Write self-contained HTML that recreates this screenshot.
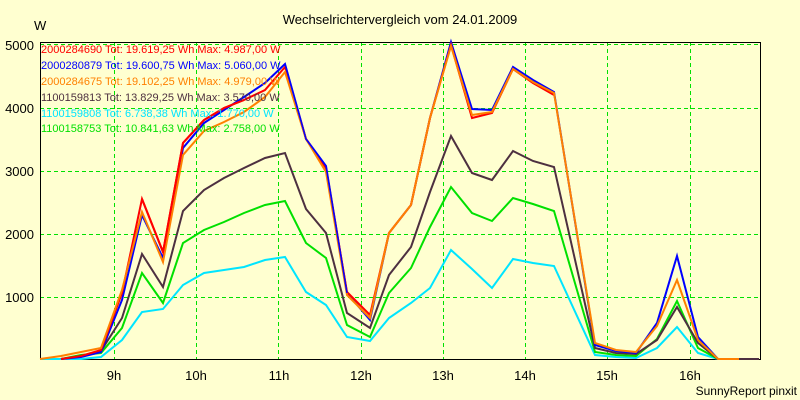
<!DOCTYPE html>
<html><head><meta charset="utf-8"><style>
html,body{margin:0;padding:0;background:#ffffd0;}
svg{display:block;font-family:"Liberation Sans",sans-serif;}
</style></head><body>
<svg width="800" height="400" viewBox="0 0 800 400" xmlns="http://www.w3.org/2000/svg">
<rect width="800" height="400" fill="#ffffd0"/>
<text x="400" y="24" font-size="13" text-anchor="middle" fill="#000">Wechselrichtervergleich vom 24.01.2009</text>
<text x="34" y="30" font-size="13" fill="#000">W</text>
<g stroke="#00e000" stroke-width="1" stroke-dasharray="4,3" fill="none">
<line x1="40" y1="44.5" x2="760" y2="44.5"/>
<line x1="40" y1="108.5" x2="760" y2="108.5"/>
<line x1="40" y1="171.5" x2="760" y2="171.5"/>
<line x1="40" y1="234.5" x2="760" y2="234.5"/>
<line x1="40" y1="297.5" x2="760" y2="297.5"/>
<line x1="114.5" y1="42" x2="114.5" y2="359"/>
<line x1="196.5" y1="42" x2="196.5" y2="359"/>
<line x1="278.5" y1="42" x2="278.5" y2="359"/>
<line x1="361.5" y1="42" x2="361.5" y2="359"/>
<line x1="443.5" y1="42" x2="443.5" y2="359"/>
<line x1="525.5" y1="42" x2="525.5" y2="359"/>
<line x1="607.5" y1="42" x2="607.5" y2="359"/>
<line x1="690.5" y1="42" x2="690.5" y2="359"/>
</g>
<g stroke="#000" stroke-width="1" fill="none">
<line x1="40" y1="42.5" x2="760" y2="42.5"/>
<polyline points="40.5,42 40.5,359.5 760.5,359.5 760.5,42"/>
</g>
<g font-size="13" fill="#000" text-anchor="end">
<text x="34" y="50">5000</text>
<text x="34" y="113">4000</text>
<text x="34" y="176">3000</text>
<text x="34" y="239">2000</text>
<text x="34" y="302">1000</text>
</g>
<g font-size="13" fill="#000" text-anchor="middle">
<text x="114" y="380">9h</text>
<text x="196" y="380">10h</text>
<text x="279" y="380">11h</text>
<text x="361" y="380">12h</text>
<text x="443" y="380">13h</text>
<text x="525" y="380">14h</text>
<text x="607" y="380">15h</text>
<text x="690" y="380">16h</text>
</g>
<text x="797" y="395" font-size="12" text-anchor="end" fill="#000">SunnyReport pinxit</text>
<g fill="none" stroke-width="2" stroke-linejoin="miter">
<polyline stroke="#00e5ff" points="40,359 61,359 81,359 101,357 122,340 142,312 163,309 183,285 204,273 224,270 244,267 265,260 285,257 306,292 326,305 347,337 370,341 389,318 411,303 430,288 451,250 472,269 492,288 513,259 533,263 554,266 595,355 616,357 636,358 657,348 677,327 698,353 718,359 739,359 759,359"/>
<polyline stroke="#00e000" points="61,359 81,355 101,353 122,328 142,273 163,303 183,243 204,230 224,222 244,213 265,205 285,201 306,243 326,258 347,325 370,337 389,293 411,268 430,227 451,187 472,213 492,221 513,198 533,204 554,211 595,352 616,355 636,356 657,339 677,301 698,348 718,359 739,359 759,359"/>
<polyline stroke="#4d3040" points="61,359 81,356 101,351 122,318 142,254 163,287 183,211 204,190 224,178 244,168 265,158 285,153 306,209 326,233 347,313 370,328 389,275 411,247 430,192 451,136 472,173 492,180 513,151 533,161 554,167 595,348 616,353 636,354 657,340 677,307 698,343 718,359 739,359 759,359"/>
<polyline stroke="#0000ff" points="61,359 81,357 101,352 122,300 142,215 163,258 183,148 204,123 224,110 244,97 265,83 285,64 306,139 326,166 347,293 370,320 389,233 411,205 430,118 451,42 472,109 492,110 513,67 533,80 554,92 595,345 616,351 636,353 657,323 677,256 698,337 718,359 739,359"/>
<polyline stroke="#ff0000" points="61,359 81,356 101,350 122,293 142,199 163,252 183,143 204,120 224,108 244,100 265,90 285,67 306,139 326,168 347,292 370,315 389,233 411,205 430,118 451,45 472,118 492,113 513,69 533,83 554,95"/>
<polyline stroke="#ff8000" points="40,359 61,356 81,352 101,348 122,290 142,212 163,262 183,155 204,131 224,122 244,112 265,97 285,72 306,139 326,172 347,295 370,318 389,233 411,205 430,118 451,46 472,115 492,112 513,69 533,82 554,93 595,343 616,350 636,352 657,326 677,280 698,340 718,359 739,359"/>
<polyline stroke="#ff0000" points="142,199 163,252 183,143 204,120 224,108 244,100" stroke-width="2"/>
<polyline stroke="#0000ff" points="244,97 265,83 285,64 306,139 326,166 347,293" stroke-width="1.5"/>
</g>
<g font-size="11">
<text x="41" y="53" fill="#ff0000">2000284690 Tot: 19.619,25 Wh Max: 4.987,00 W</text>
<text x="41" y="69" fill="#0000ff">2000280879 Tot: 19.600,75 Wh Max: 5.060,00 W</text>
<text x="41" y="85" fill="#ff8000">2000284675 Tot: 19.102,25 Wh Max: 4.979,00 W</text>
<text x="41" y="101" fill="#4d3040">1100159813 Tot: 13.829,25 Wh Max: 3.570,00 W</text>
<text x="41" y="117" fill="#00e5ff">1100159808 Tot: 6.738,38 Wh Max: 1.770,00 W</text>
<text x="41" y="132" fill="#00e000">1100158753 Tot: 10.841,63 Wh Max: 2.758,00 W</text>
</g>
</svg>
</body></html>
